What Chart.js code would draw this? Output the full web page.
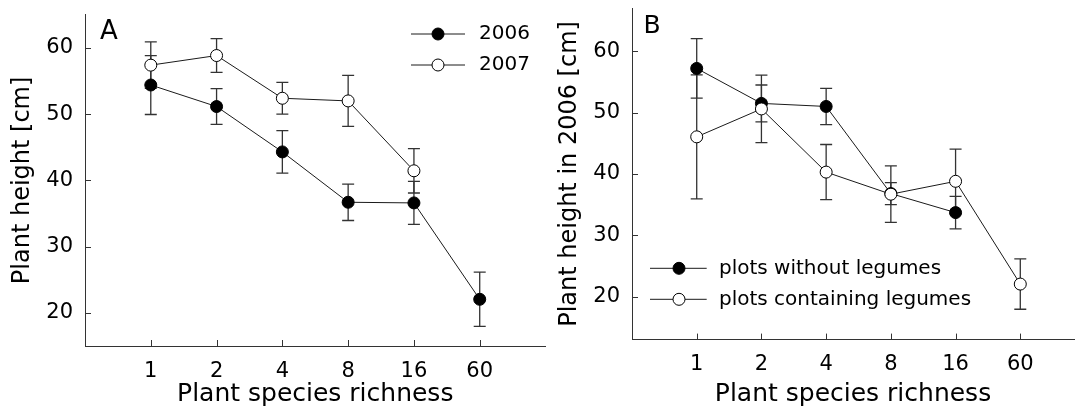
<!DOCTYPE html>
<html><head><meta charset="utf-8">
<script src="https://cdn.jsdelivr.net/npm/chart.js@4.4.1/dist/chart.umd.min.js"></script>
<style>
html,body{margin:0;padding:0;background:#fff;overflow:hidden;width:1081px;height:412px;}
#a{position:absolute;left:0;top:0;}
#b{position:absolute;left:540px;top:0;}
</style></head><body>
<canvas id="a" width="560" height="412"></canvas>
<canvas id="b" width="541" height="412"></canvas>
<script>
// ---- data ----
const richness = ['1', '2', '4', '8', '16', '60'];
const yTickValues = [20, 30, 40, 50, 60];

// Panel A
const height2006 = [54.4, 51.15, 44.3, 36.7, 36.6, 22.05];
const se2006     = [4.45, 2.7, 3.2, 2.75, 3.25, 4.1];
const height2007 = [57.4, 58.85, 52.4, 52.0, 41.45, null];
const se2007     = [3.5, 2.55, 2.4, 3.85, 3.35, null];

// Panel B
const withoutLegumes   = [57.2, 51.5, 51.0, 36.8, 33.7, null];
const withoutLegumesSE = [4.85, 3.0, 2.95, 1.8, 2.65, null];
const withLegumes      = [46.05, 50.6, 40.3, 36.7, 38.8, 22.05];
const withLegumesSE    = [10.1, 5.5, 4.5, 4.6, 5.25, 4.1];

// ---- style ----
const FONT = '"DejaVu Sans", "Liberation Sans", sans-serif';
const INK = '#1a1a1a';
const AXIS = '#333333';
Chart.defaults.font.family = FONT;
Chart.defaults.color = '#000';

function pts(vals) {
  const out = [];
  vals.forEach((v, i) => { if (v !== null) out.push({x: i, y: v}); });
  return out;
}
function series(label, vals, errs, filled, order) {
  return {
    label, data: pts(vals), errors: errs, order,
    borderColor: INK, borderWidth: 1, tension: 0, fill: false,
    pointRadius: 6, pointHoverRadius: 6, pointBorderWidth: 1,
    pointBackgroundColor: filled ? '#000' : '#fff', pointBorderColor: '#000'
  };
}

const errorBars = {
  id: 'errorBars',
  beforeDatasetsDraw(chart) {
    const {ctx, scales: {x, y}} = chart;
    ctx.save();
    ctx.strokeStyle = '#333';
    ctx.lineWidth = 1.3;
    chart.data.datasets.forEach(ds => {
      ds.data.forEach(p => {
        const e = ds.errors[p.x];
        if (e == null) return;
        const px = x.getPixelForValue(p.x);
        const t = y.getPixelForValue(p.y + e), b = y.getPixelForValue(p.y - e);
        ctx.beginPath();
        ctx.moveTo(px, t); ctx.lineTo(px, b);
        ctx.moveTo(px - 6, t); ctx.lineTo(px + 6, t);
        ctx.moveTo(px - 6, b); ctx.lineTo(px + 6, b);
        ctx.stroke();
      });
    });
    ctx.restore();
  }
};

const innerTicks = {
  id: 'innerTicks',
  beforeDatasetsDraw(chart) {
    const {ctx, scales: {x, y}, chartArea: a} = chart;
    ctx.save();
    ctx.strokeStyle = AXIS;
    ctx.lineWidth = 1;
    ctx.beginPath();
    x.ticks.forEach(t => {
      const px = Math.round(x.getPixelForValue(t.value)) + 0.5;
      ctx.moveTo(px, a.bottom); ctx.lineTo(px, a.bottom - 6);
    });
    y.ticks.forEach(t => {
      const py = Math.round(y.getPixelForValue(t.value)) + 0.5;
      ctx.moveTo(a.left, py); ctx.lineTo(a.left + 6, py);
    });
    ctx.stroke();
    ctx.restore();
  }
};

const deco = {
  id: 'deco',
  afterDraw(chart, args, o) {
    const ctx = chart.ctx;
    ctx.save();
    ctx.fillStyle = '#000';
    ctx.textAlign = 'left';
    ctx.textBaseline = 'alphabetic';
    ctx.font = o.letterSize + 'px ' + FONT;
    ctx.fillText(o.letter, o.letterX, o.letterY);
    const L = o.legend;
    L.items.forEach((di, k) => {
      const ds = chart.data.datasets[di];
      const yy = L.ys[k];
      ctx.strokeStyle = ds.borderColor;
      ctx.lineWidth = 1;
      ctx.beginPath();
      ctx.moveTo(L.x1, yy); ctx.lineTo(L.x2, yy);
      ctx.stroke();
      ctx.beginPath();
      ctx.arc(L.xm, yy, ds.pointRadius, 0, Math.PI * 2);
      ctx.fillStyle = ds.pointBackgroundColor;
      ctx.fill();
      ctx.strokeStyle = ds.pointBorderColor;
      ctx.stroke();
      ctx.fillStyle = '#000';
      ctx.font = '20px ' + FONT;
      ctx.textBaseline = 'middle';
      ctx.fillText(ds.label, L.xt, yy);
    });
    ctx.restore();
  }
};

function makeOptions(o) {
  return {
    responsive: false, animation: false, devicePixelRatio: 1,
    events: [],
    layout: {padding: {left: 0, right: o.padRight, top: o.padTop, bottom: 0}},
    plugins: {legend: {display: false}, tooltip: {enabled: false}, deco: o.deco},
    scales: {
      x: {
        type: 'linear', position: 'bottom', min: -1, max: o.xmax,
        afterBuildTicks: s => { s.ticks = richness.map((c, i) => ({value: i})); },
        afterFit: s => { s.height = o.xh; s.paddingLeft = 0; s.paddingRight = 0; },
        grid: {display: false, drawTicks: false},
        border: {display: true, color: AXIS, width: 1},
        ticks: {padding: o.xpad, font: {size: 21}, color: '#000', maxRotation: 0, autoSkip: false,
                callback: v => richness[v]},
        title: {display: true, text: 'Plant species richness', font: {size: 25}, color: '#000',
                padding: {top: 0, bottom: 3}}
      },
      y: {
        min: o.ymin, max: o.ymax,
        afterBuildTicks: s => { s.ticks = yTickValues.map(v => ({value: v})); },
        afterFit: s => { s.width = o.yw; s.paddingTop = 0; s.paddingBottom = 0; },
        grid: {display: false, drawTicks: false},
        border: {display: true, color: AXIS, width: 1},
        ticks: {padding: 12, font: {size: 21}, color: '#000'},
        title: {display: true, text: o.ytitle, font: {size: 24}, color: '#000',
                padding: {top: o.ytp, bottom: 0}}
      }
    }
  };
}

new Chart(document.getElementById('a'), {
  type: 'line',
  data: {datasets: [
    series('2006', height2006, se2006, true, 1),
    series('2007', height2007, se2007, false, 0)
  ]},
  options: makeOptions({
    padRight: 14.5, padTop: 14.8, xmax: 6, xh: 66, xpad: 13, ymin: 15, ymax: 65, yw: 85,
    ytitle: 'Plant height [cm]', ytp: 8,
    deco: {letter: 'A', letterSize: 26, letterX: 100, letterY: 39.3,
           legend: {items: [0, 1], ys: [34, 65], x1: 411, x2: 465, xm: 438, xt: 479}}
  }),
  plugins: [innerTicks, errorBars, deco]
});

new Chart(document.getElementById('b'), {
  type: 'line',
  data: {datasets: [
    series('plots without legumes', withoutLegumes, withoutLegumesSE, true, 1),
    series('plots containing legumes', withLegumes, withLegumesSE, false, 0)
  ]},
  options: makeOptions({
    padRight: 0, padTop: 8.3, xmax: 5.83, xh: 72.4, xpad: 12, ymin: 13, ymax: 67, yw: 92,
    ytitle: 'Plant height in 2006 [cm]', ytp: 15,
    deco: {letter: 'B', letterSize: 25, letterX: 103.5, letterY: 33.3,
           legend: {items: [0, 1], ys: [268.3, 299.3], x1: 110, x2: 166.7, xm: 139, xt: 179}}
  }),
  plugins: [innerTicks, errorBars, deco]
});
</script>
</body></html>
